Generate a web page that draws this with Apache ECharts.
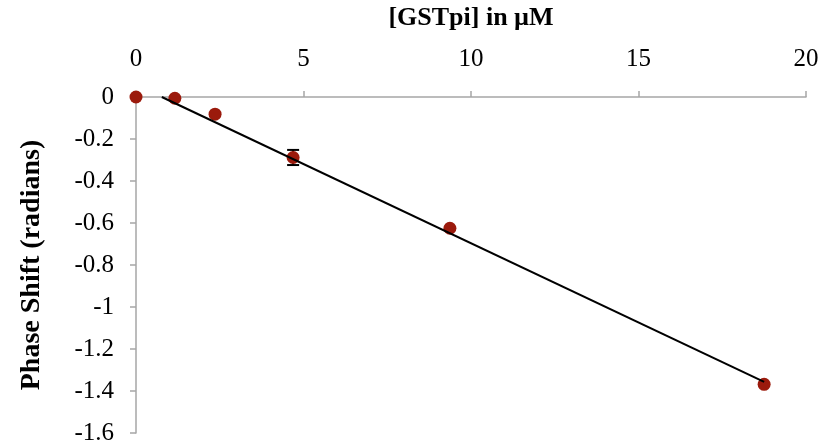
<!DOCTYPE html>
<html>
<head>
<meta charset="utf-8">
<script src="https://cdn.jsdelivr.net/npm/echarts@6/dist/echarts.min.js"></script>
<style>
html,body{margin:0;padding:0;background:#fff;}
#c{width:822px;height:446px;}
</style>
</head>
<body>
<div id="c"></div>
<script>
// Data
var concX = [0, 1.16, 2.36, 4.69, 9.37, 18.75];
var phaseY = [0, -0.006, -0.082, -0.288, -0.625, -1.368];
var errY = [0, 0, 0, 0.036, 0, 0];
var trendX = [0.77, 18.75];
var trendY = [0, -1.357];
var xTicks = [0, 5, 10, 15, 20];
var yTicks = [0, -0.2, -0.4, -0.6, -0.8, -1, -1.2, -1.4, -1.6];

var pts = concX.map(function (x, i) { return [x, phaseY[i], errY[i]]; });
var trend = trendX.map(function (x, i) { return [x, trendY[i]]; });

var font = 'Liberation Serif, Times New Roman, serif';
var axisCol = '#a6a6a6';

var chart = echarts.init(document.getElementById('c'));
chart.setOption({
  animation: false,
  grid: { left: 136, right: 16, top: 97, bottom: 13, containLabel: false, outerBoundsMode: 'none' },
  xAxis: {
    type: 'value', position: 'top',
    min: xTicks[0], max: xTicks[xTicks.length - 1], interval: 5,
    name: '[GSTpi] in µM', nameLocation: 'middle', nameGap: 66,
    nameTextStyle: { fontFamily: font, fontWeight: 'bold', fontSize: 26, color: '#000' },
    axisLine: { onZero: false, lineStyle: { color: axisCol, width: 1.5 } },
    axisTick: { show: true, inside: false, length: 6, lineStyle: { color: axisCol, width: 1.5 } },
    axisLabel: { fontFamily: font, fontSize: 25, color: '#000', margin: 25 },
    splitLine: { show: false }
  },
  yAxis: {
    type: 'value',
    min: yTicks[yTicks.length - 1], max: yTicks[0], interval: 0.2,
    name: 'Phase Shift (radians)', nameLocation: 'middle', nameGap: 90, nameRotate: 90,
    nameTextStyle: { fontFamily: font, fontWeight: 'bold', fontSize: 28, color: '#000', padding: [0, 0, 0, 0] },
    axisLine: { show: true, onZero: false, lineStyle: { color: axisCol, width: 1.5 } },
    axisTick: { show: true, inside: false, length: 6, lineStyle: { color: axisCol, width: 1.5 } },
    axisLabel: { fontFamily: font, fontSize: 25, color: '#000', margin: 22 },
    splitLine: { show: false }
  },
  series: [
    {
      type: 'custom', z: 2, clip: false,
      data: pts,
      renderItem: function (params, api) {
        var x = api.value(0), y = api.value(1), e = api.value(2);
        if (!(e > 0)) { return null; }
        var top = api.coord([x, y + e]);
        var bot = api.coord([x, y - e]);
        var hw = 6;
        var st = { stroke: '#000', lineWidth: 2 };
        return {
          type: 'group',
          children: [
            { type: 'line', shape: { x1: top[0], y1: top[1], x2: bot[0], y2: bot[1] }, style: st },
            { type: 'line', shape: { x1: top[0] - hw, y1: top[1], x2: top[0] + hw, y2: top[1] }, style: st },
            { type: 'line', shape: { x1: bot[0] - hw, y1: bot[1], x2: bot[0] + hw, y2: bot[1] }, style: st }
          ]
        };
      }
    },
    {
      type: 'scatter', data: pts, symbol: 'circle', symbolSize: 13,
      itemStyle: { color: '#9b1a0c', opacity: 1 }, z: 3, clip: false
    },
    {
      type: 'line', data: trend, showSymbol: false, symbol: 'none',
      lineStyle: { color: '#000', width: 2 }, z: 4
    }
  ]
});
</script>
</body>
</html>
